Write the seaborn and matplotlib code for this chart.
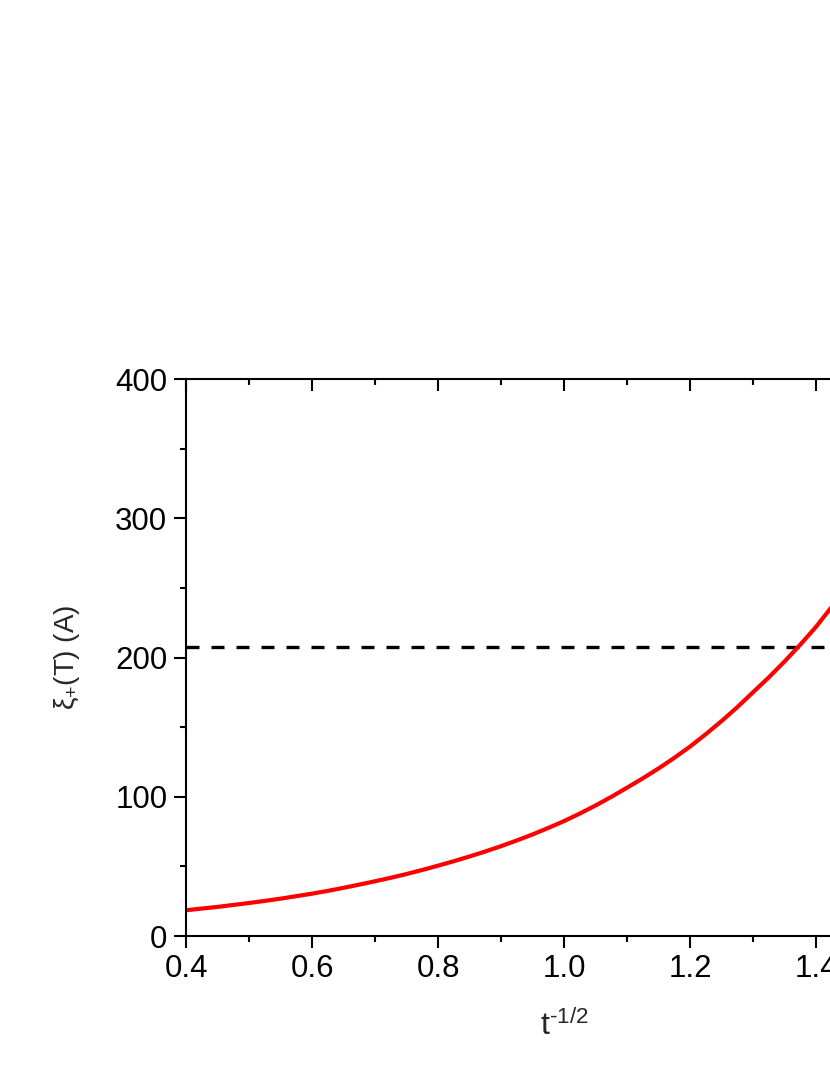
import matplotlib
matplotlib.use("Agg")
import matplotlib.pyplot as plt
import pandas as pd
import seaborn as sns
from matplotlib.ticker import MultipleLocator

# values
t_inv_sqrt = [0.400, 0.425, 0.450, 0.475, 0.500, 0.525, 0.550, 0.575,
              0.600, 0.625, 0.650, 0.675, 0.700, 0.725, 0.750, 0.775,
              0.800, 0.825, 0.850, 0.875, 0.900, 0.925, 0.950, 0.975,
              1.000, 1.025, 1.050, 1.075, 1.100, 1.125, 1.150, 1.175,
              1.200, 1.225, 1.250, 1.275, 1.300, 1.325, 1.350, 1.375,
              1.400, 1.425, 1.450]
xi_plus = [18.5, 19.7, 20.9, 22.3, 23.7, 25.2, 26.8, 28.6,
           30.4, 32.4, 34.6, 36.9, 39.3, 41.8, 44.5, 47.4,
           50.5, 53.7, 57.1, 60.7, 64.5, 68.6, 72.9, 77.6,
           82.5, 87.9, 93.7, 99.9, 106.5, 113.2, 120.3, 127.9,
           136.0, 144.9, 154.3, 164.3, 175.0, 185.7, 197.1, 209.2,
           222.0, 236.4, 251.8]
xi_level = 207.5

x_ticks = [0.4, 0.6, 0.8, 1.0, 1.2, 1.4, 1.6]
y_ticks = [0, 100, 200, 300, 400]

sns.set_theme(style="ticks")
plt.rcParams["font.family"] = ["Liberation Sans", "DejaVu Sans"]
plt.rcParams["mathtext.fontset"] = "custom"
plt.rcParams["mathtext.rm"] = "Liberation Sans"
plt.rcParams["mathtext.it"] = "Liberation Sans:italic"

df = pd.DataFrame({"x": t_inv_sqrt, "xi": xi_plus})

fig = plt.figure(figsize=(8.3, 10.75), dpi=100)
# the original plot is wider than the picture, right part is cut off
ax = fig.add_axes([186 / 830, 139 / 1075, 756 / 830, 557 / 1075])

ax.axhline(xi_level, color="black", lw=2.4, ls=(0, (3.9, 3.6)))
sns.lineplot(data=df, x="x", y="xi", ax=ax, color="#ff0000", lw=3.0)

ax.set_xlim(0.4, 1.6)
ax.set_ylim(0, 400)
ax.set_xticks(x_ticks)
ax.set_yticks(y_ticks)
ax.xaxis.set_minor_locator(MultipleLocator(0.1))
ax.yaxis.set_minor_locator(MultipleLocator(50))
ax.xaxis.set_major_formatter(lambda v, p: f"{v:.1f}")

for s in ax.spines.values():
    s.set_visible(True)
    s.set_linewidth(1.5)
    s.set_color("black")

ax.tick_params(which="both", colors="black", width=1.5, labelsize=22.5)
ax.tick_params(which="major", length=8.5)
ax.tick_params(which="minor", length=4.5)
ax.tick_params(axis="x", which="both", bottom=True, top=True, pad=4.5)
ax.tick_params(axis="y", which="both", left=True, right=True, pad=5)
# top/right ticks point inside, bottom/left outside
ax.tick_params(axis="x", which="both", direction="out")
ax.tick_params(axis="y", which="both", direction="out")
for tk in ax.xaxis.get_major_ticks() + ax.xaxis.get_minor_ticks():
    tk.tick2line.set_marker(3)
for tk in ax.yaxis.get_major_ticks() + ax.yaxis.get_minor_ticks():
    tk.tick2line.set_marker(1)

ax.set_xlabel(r"$\mathrm{t^{\text{-1/2}}}$", fontsize=23, labelpad=19)
ax.set_ylabel(r"$\mathrm{\xi_{+}(T)\ (A)}$", fontsize=20, labelpad=24)

fig.savefig("out.png", dpi=100)
